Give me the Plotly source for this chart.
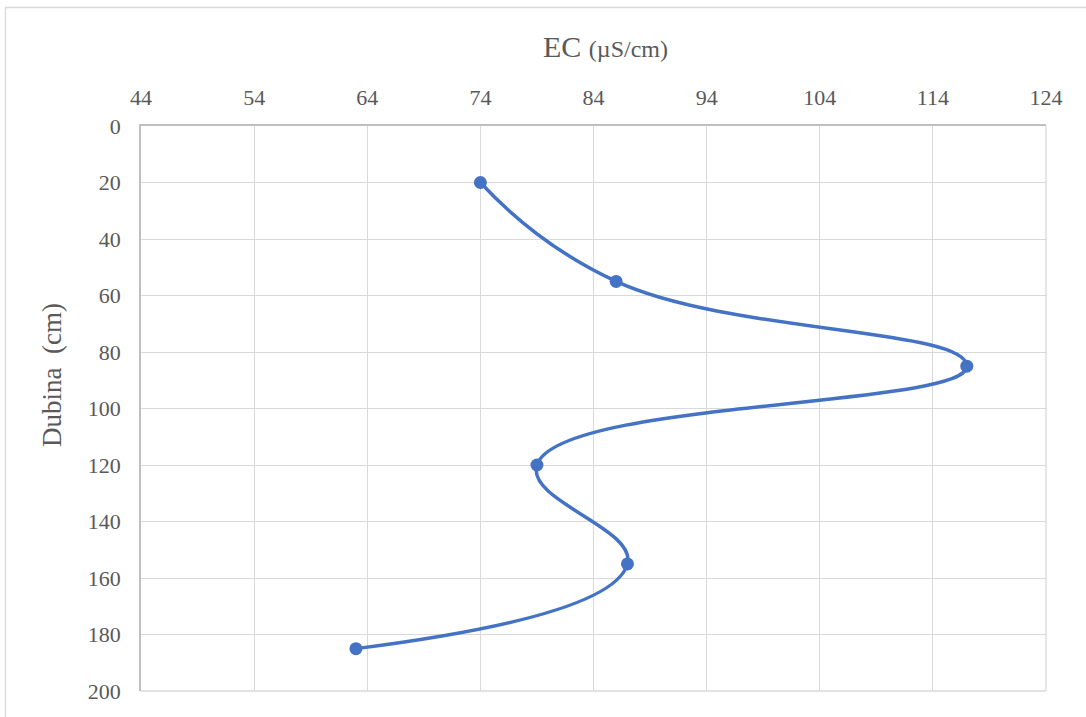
import plotly.graph_objects as go

# Data
ec_values = [74, 86, 117, 79, 87, 63]
depth_cm = [20, 55, 85, 120, 155, 185]
x_ticks = [44, 54, 64, 74, 84, 94, 104, 114, 124]
y_ticks = [0, 20, 40, 60, 80, 100, 120, 140, 160, 180, 200]

W, H = 1086, 717
L, R, T, B = 141, 1046, 126, 691

def px(xp):
    return (xp - L) / (R - L)

def py(yp):
    return (B - yp) / (B - T)

FONT = "Liberation Serif, Times New Roman, serif"
GREY = "#595959"
BLUE = "#4472C4"

fig = go.Figure()
fig.add_trace(go.Scatter(
    x=ec_values, y=depth_cm, mode="lines+markers",
    line=dict(color=BLUE, width=3.5, shape="spline", smoothing=1.3),
    marker=dict(color=BLUE, size=13),
    showlegend=False, hoverinfo="x+y",
))

fig.update_layout(
    width=W, height=H,
    margin=dict(l=L, r=W - R, t=T, b=H - B, pad=0),
    paper_bgcolor="white", plot_bgcolor="white",
    font=dict(family=FONT, color=GREY),
    xaxis=dict(
        side="top", range=[44, 124], tickvals=x_ticks,
        ticktext=[str(v) for v in x_ticks],
        showgrid=True, gridcolor="#d9d9d9", gridwidth=1.3,
        showline=True, linecolor="#bfbfbf", linewidth=1.5,
        zeroline=False, ticks="", tickfont=dict(size=22, color=GREY, family=FONT),
        ticklabelstandoff=10,
    ),
    yaxis=dict(
        range=[200, 0], tickvals=y_ticks,
        ticktext=[str(v) for v in y_ticks],
        showgrid=True, gridcolor="#d9d9d9", gridwidth=1.3,
        showline=True, linecolor="#bfbfbf", linewidth=1.5,
        zeroline=False, ticks="", tickfont=dict(size=22, color=GREY, family=FONT),
        ticklabelstandoff=14,
    ),
    shapes=[
        dict(type="rect", xref="paper", yref="paper",
             x0=px(5.5), x1=px(1100), y0=py(730), y1=py(7.5),
             line=dict(color="#d9d9d9", width=1.3), fillcolor="rgba(0,0,0,0)",
             layer="below"),
        dict(type="line", xref="paper", yref="paper", x0=1, x1=1, y0=0, y1=1,
             line=dict(color="#d9d9d9", width=1.3), layer="below"),
        dict(type="line", xref="paper", yref="paper", x0=0, x1=1, y0=0, y1=0,
             line=dict(color="#d9d9d9", width=1.3), layer="below"),
    ],
    annotations=[
        dict(text="EC <span style='font-size:24px'>(\u00b5S/cm)</span>",
             xref="paper", yref="paper", x=px(541), y=py(46),
             xanchor="left", yanchor="middle", showarrow=False,
             font=dict(size=30, color=GREY, family=FONT)),
        dict(text="Dubina\u00a0\u00a0(cm)", textangle=-90,
             xref="paper", yref="paper", x=px(52), y=py(375),
             xanchor="center", yanchor="middle", showarrow=False,
             font=dict(size=27, color=GREY, family=FONT)),
    ],
)

fig.write_html("out.html", config={"displayModeBar": False},
               post_script="document.body.style.margin='0';")
